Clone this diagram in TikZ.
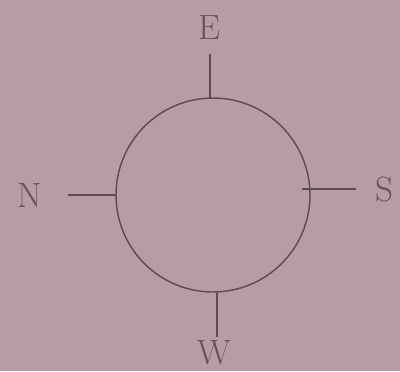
\documentclass[tikz,border=0pt]{standalone}
\definecolor{figPaper}{RGB}{184,156,164}
\definecolor{figInk}  {RGB}{90,74,84}
\definecolor{figText} {RGB}{100,84,94}

\begin{document}
\begin{tikzpicture}[scale=0.02,
        tick/.style={figInk, line width=0.8pt},
        dirlabel/.style={figText, font=\fontsize{20}{20}\selectfont, inner sep=0pt}]
        \fill[figPaper] (0,0) rectangle (400,371);
        \node[draw=figInk, line width=0.8pt, circle, minimum size=3.88cm, inner sep=0pt]
              (ring) at (213,176){};
        % tick ends
        \coordinate (eIn)  at (210,273);
        \coordinate (eOut) at (210,317);
        \coordinate (nIn)  at (116,176);
        \coordinate (nOut) at (68,176);
        \coordinate (sIn)  at (302,182);
        \coordinate (sOut) at (356,182);
        \coordinate (wIn)  at (217,78);
        \coordinate (wOut) at (217,34);
        \draw[tick] (eIn)--(eOut);
        \draw[tick] (nIn)--(nOut);
        \draw[tick] (sIn)--(sOut);
        \draw[tick] (wIn)--(wOut);
        \node[dirlabel] (lblE) at (210,343){E};
        \node[dirlabel] (lblN) at (30,176){N};
        \node[dirlabel] (lblS) at (384,182){S};
        \node[dirlabel] (lblW) at (214,18){W};
      \end{tikzpicture}
\end{document}
